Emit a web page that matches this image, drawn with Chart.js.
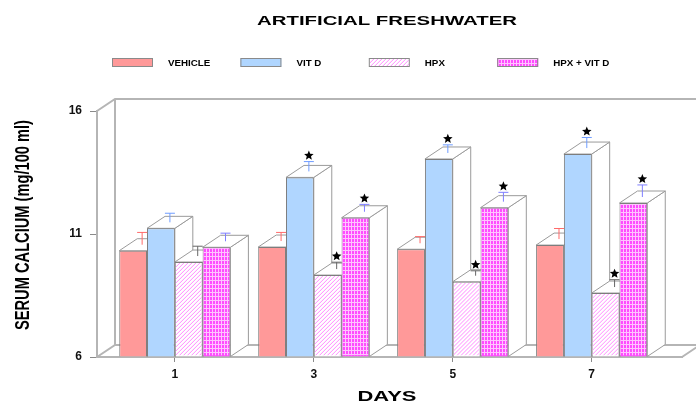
<!DOCTYPE html>
<html>
<head>
<meta charset="utf-8">
<script src="https://cdn.jsdelivr.net/npm/chart.js@4/dist/chart.umd.min.js"></script>
<style>
body{margin:0;background:#fff;}
canvas{display:block;}
</style>
</head>
<body>
<canvas id="c" width="696" height="404"></canvas>
<script>
/* ================= DATA ================= */
const days=[1,3,5,7];
const yTicks=[6,11,16];
const seriesNames=["VEHICLE","VIT D","HPX","HPX + VIT D"];

const vehicle=[10.32,10.47,10.38,10.55];
const vitD=[11.23,13.3,14.05,14.25];
const hpx=[9.86,9.33,9.06,8.6];
const hpxVitD=[10.46,11.66,12.07,12.26];

const vehicleErr=[0.5,0.35,0.27,0.43];
const vitDErr=[0.37,0.4,0.33,0.43];
const hpxErr=[0.4,0.28,0.2,0.3];
const hpxVitDErr=[0.33,0.3,0.38,0.49];

/* significance stars */
const vehicleSig=[0,0,0,0];
const vitDSig=[0,1,1,1];
const hpxSig=[0,1,1,1];
const hpxVitDSig=[0,1,1,1];

/* ================= STYLE ================= */
const F="'Liberation Sans', Arial, sans-serif";
const DX=18,DY=-12;   // depth of the 3d boxes
const FRAME="#b5b5b5";

/* hatch / grid overlay inside a rect */
function texture(ctx,kind,x,y,w,h){
if(!kind) return;
ctx.save();
ctx.beginPath();ctx.rect(x,y,w,h);ctx.clip();
ctx.lineWidth=1;
ctx.beginPath();
if(kind==="hatch"){
ctx.strokeStyle="#ff8cff";
for(let k=-h;k<w+h;k+=4){ctx.moveTo(x+k,y+h);ctx.lineTo(x+k+h,y);}
}else{
ctx.strokeStyle="#ffc4ff";
for(let k=0;k<w;k+=3){ctx.moveTo(Math.floor(x+k)+0.5,y);ctx.lineTo(Math.floor(x+k)+0.5,y+h);}
for(let k=0;k<h;k+=4){ctx.moveTo(x,Math.floor(y+k)+0.5);ctx.lineTo(x+w,Math.floor(y+k)+0.5);}
}
ctx.stroke();
ctx.restore();
}

/* stretched text, centred on x,y */
function sText(ctx,txt,x,y,font,w,rot,cross){
ctx.save();
ctx.font=font;
const m=ctx.measureText(txt).width;
ctx.translate(x,y);
if(rot) ctx.rotate(-Math.PI/2);
ctx.scale(w/m,cross||1);
ctx.textAlign="center";ctx.textBaseline="middle";ctx.fillStyle="#000";
ctx.fillText(txt,0,0);
ctx.restore();
}

function star(ctx,x,y,r){
ctx.beginPath();
for(let i=0;i<10;i++){
const a=-Math.PI/2+i*Math.PI/5, rr=i%2?r*0.45:r;
ctx.lineTo(x+rr*Math.cos(a),y+rr*Math.sin(a));
}
ctx.closePath();ctx.fillStyle="#000";ctx.fill();
}

/* ================= 3D PLUGIN ================= */
function drawBoxes(chart,meta){
const ctx=chart.ctx,bottom=chart.chartArea.bottom;
ctx.save();
ctx.fillStyle="#fff";ctx.strokeStyle="#9a9a9a";ctx.lineWidth=1;
meta.data.forEach(b=>{
const l=b.x-b.width/2,r=b.x+b.width/2,t=b.y,bt=Math.min(b.base,bottom);
ctx.beginPath();
ctx.moveTo(r,t);ctx.lineTo(r+DX,t+DY);ctx.lineTo(r+DX,bt+DY);ctx.lineTo(r,bt);ctx.closePath();
ctx.fill();ctx.stroke();
ctx.beginPath();
ctx.moveTo(l,t);ctx.lineTo(l+DX,t+DY);ctx.lineTo(r+DX,t+DY);ctx.lineTo(r,t);ctx.closePath();
ctx.fill();ctx.stroke();
});
ctx.restore();
}

const box3d={
id:"box3d",
beforeDatasetsDraw(chart){
const {ctx,chartArea:a}=chart;
ctx.save();
ctx.strokeStyle=FRAME;ctx.lineWidth=2;
ctx.beginPath();
ctx.moveTo(a.left,a.top);ctx.lineTo(a.left+DX,a.top+DY);ctx.lineTo(chart.width+5,a.top+DY);
ctx.moveTo(a.left+DX,a.top+DY);ctx.lineTo(a.left+DX,a.bottom+DY);
ctx.moveTo(a.left,a.bottom);ctx.lineTo(a.left+DX,a.bottom+DY);ctx.lineTo(chart.width+5,a.bottom+DY);
ctx.moveTo(a.right,a.bottom);ctx.lineTo(a.right+DX,a.bottom+DY);
ctx.stroke();
ctx.restore();

/* left to right: box sides, then front faces */
chart.data.datasets.forEach((ds,i)=>{
const meta=chart.getDatasetMeta(i);
drawBoxes(chart,meta);
ctx.save();
ctx.beginPath();ctx.rect(a.left,a.top-20,a.right-a.left,a.bottom-a.top+20);ctx.clip();
meta.data.forEach(b=>{
b.draw(ctx,a);
if(ds.texture){
const l=b.x-b.width/2,bt=Math.min(b.base,a.bottom);
texture(ctx,ds.texture,l+1,b.y+1,b.width-2,bt-b.y-2);
}
});
ctx.restore();
});
},
beforeDatasetDraw(){ return false; },
afterDatasetsDraw(chart){
const ctx=chart.ctx,y=chart.scales.y;
chart.data.datasets.forEach((ds,i)=>{
const meta=chart.getDatasetMeta(i);
meta.data.forEach((b,j)=>{
const x=b.x+DX/2,y0=b.y+DY/2,y1=y.getPixelForValue(ds.data[j]+ds.err[j])+DY/2;
ctx.save();
ctx.strokeStyle=ds.errColor;ctx.lineWidth=1;
ctx.beginPath();ctx.moveTo(x,y0);ctx.lineTo(x,y1);ctx.moveTo(x-5,y1);ctx.lineTo(x+5,y1);ctx.stroke();
ctx.restore();
if(ds.sig[j]) star(ctx,x,y1-6,5);
});
});
},
afterDraw(chart){
const ctx=chart.ctx;
sText(ctx,"ARTIFICIAL FRESHWATER",387,22,"bold 12.5px "+F,260);
sText(ctx,"DAYS",387,397,"bold 15px "+F,59);
sText(ctx,"SERUM CALCIUM (mg/100 ml)",23,225,"bold 14.5px "+F,210,true,1.45);

/* legend */
chart.data.datasets.forEach((ds,i)=>{
const bx=112+i*128.4;
ctx.save();
ctx.fillStyle=ds.backgroundColor;ctx.fillRect(bx,58,41,9);
texture(ctx,ds.texture,bx+1,59,39,7);
ctx.strokeStyle="#8a8a8a";ctx.lineWidth=1;ctx.strokeRect(bx+0.5,58.5,40,8);
ctx.font="bold 8.5px "+F;
const w=ctx.measureText(ds.label).width*1.15;
ctx.restore();
sText(ctx,ds.label,bx+56+w/2,64,"bold 8.5px "+F,w);
});
}
};

/* ================= CHART ================= */
const mk=(i,data,err,sig,bg,texture,errColor)=>({
label:seriesNames[i],data,err,sig,errColor,texture,
backgroundColor:bg,borderColor:"#7d7d7d",borderWidth:1,base:6
});

new Chart(document.getElementById("c"),{
type:"bar",
data:{
labels:days,
datasets:[
mk(0,vehicle,vehicleErr,vehicleSig,"#ff9999",null,"#ff6a6a"),
mk(1,vitD,vitDErr,vitDSig,"#b0d6ff",null,"#6f9cff"),
mk(2,hpx,hpxErr,hpxSig,"#ffffff","hatch","#666"),
mk(3,hpxVitD,hpxVitDErr,hpxVitDSig,"#ff4cff","grid","#7f7fff")
]
},
options:{
responsive:false,animation:false,
layout:{padding:{left:40,right:14,top:111,bottom:0}},
categoryPercentage:0.8,barPercentage:1,
plugins:{legend:{display:false},title:{display:false},tooltip:{enabled:false}},
scales:{
x:{
type:"linear",min:-0.12,max:8.3,offset:false,
afterBuildTicks:s=>{s.ticks=days.map(v=>({value:v}));},
afterFit:s=>{s.height=47;},
grid:{drawOnChartArea:false,offset:false,tickLength:5,color:"#8a8a8a"},
border:{color:FRAME,width:2},
ticks:{font:{family:F,size:12,weight:"bold"},color:"#111",padding:5}
},
y:{
min:6,max:16,
afterBuildTicks:s=>{s.ticks=yTicks.map(v=>({value:v}));},
afterFit:s=>{s.width=57;},
grid:{drawOnChartArea:false,tickLength:7,color:"#8a8a8a"},
border:{color:FRAME,width:2},
ticks:{font:{family:F,size:12,weight:"bold"},color:"#111",padding:8}
}
}
},
plugins:[box3d]
});
</script>
</body>
</html>
